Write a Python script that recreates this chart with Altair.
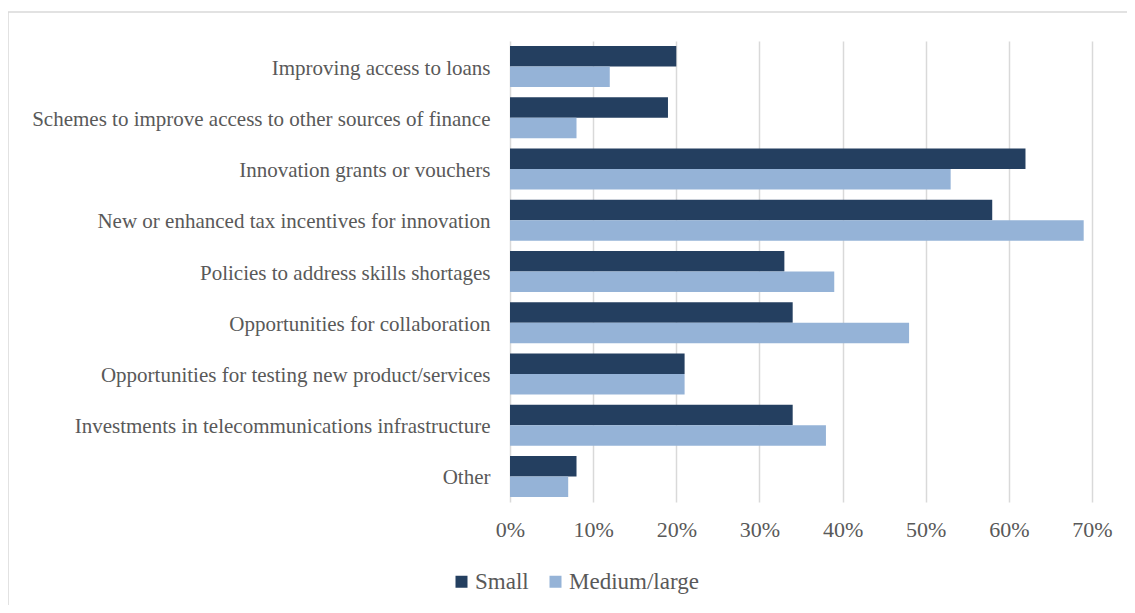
import altair as alt
import pandas as pd

categories = [
    "Improving access to loans",
    "Schemes to improve access to other sources of finance",
    "Innovation grants or vouchers",
    "New or enhanced tax incentives for innovation",
    "Policies to address skills shortages",
    "Opportunities for collaboration",
    "Opportunities for testing new product/services",
    "Investments in telecommunications infrastructure",
    "Other",
]
small = [0.20, 0.19, 0.62, 0.58, 0.33, 0.34, 0.21, 0.34, 0.08]
medium_large = [0.12, 0.08, 0.53, 0.69, 0.39, 0.48, 0.21, 0.38, 0.07]
groups = ["Small", "Medium/large"]
colors = ["#243F60", "#95B3D7"]
x_ticks = [0, 0.1, 0.2, 0.3, 0.4, 0.5, 0.6, 0.7]

rows = []
for c, s, m in zip(categories, small, medium_large):
    rows.append({"category": c, "group": "Small", "value": s})
    rows.append({"category": c, "group": "Medium/large", "value": m})
df = pd.DataFrame(rows)

FONT = "Liberation Serif, Times New Roman, serif"
TXT = "#595959"

bars = alt.Chart(df).mark_bar().encode(
    y=alt.Y("category:N", sort=categories, title=None,
            scale=alt.Scale(paddingInner=0.2, paddingOuter=0.1),
            axis=alt.Axis(domain=False, ticks=False, grid=False, labelFont=FONT,
                          labelFontSize=21, labelColor=TXT, labelPadding=20,
                          labelOffset=2, labelLimit=600)),
    yOffset=alt.YOffset("group:N", sort=groups),
    x=alt.X("value:Q", title=None, scale=alt.Scale(domain=[0, 0.7], nice=False),
            axis=alt.Axis(values=x_ticks, format=".0%", domain=False, ticks=False,
                          grid=True, gridColor="#D9D9D9", gridWidth=1.5,
                          labelFlush=False, labelOverlap=False,
                          labelFont=FONT, labelFontSize=22, labelColor=TXT,
                          labelPadding=17)),
    color=alt.Color("group:N", sort=groups,
                    scale=alt.Scale(domain=groups, range=colors),
                    legend=alt.Legend(title=None, orient="none", legendX=-60, legendY=529,
                                      direction="horizontal", symbolType="square",
                                      symbolSize=144, symbolStrokeWidth=0,
                                      labelFont=FONT, labelFontSize=23, labelColor=TXT,
                                      labelOffset=2, columnPadding=15)),
)

border = alt.Chart(pd.DataFrame({"k": [0]})).mark_rect(
    fill=None, stroke="#D9D9D9", strokeWidth=1.5
).encode(x=alt.value(-502), x2=alt.value(900), y=alt.value(-29), y2=alt.value(900))

chart = alt.layer(border, bars).properties(
    width=582, height=461,
    autosize=alt.AutoSizeParams(type="none"),
    padding={"left": 502, "top": 33, "right": 35, "bottom": 103},
).configure_view(stroke=None)

chart.save("out.html", embed_options={"renderer": "svg", "actions": False})
